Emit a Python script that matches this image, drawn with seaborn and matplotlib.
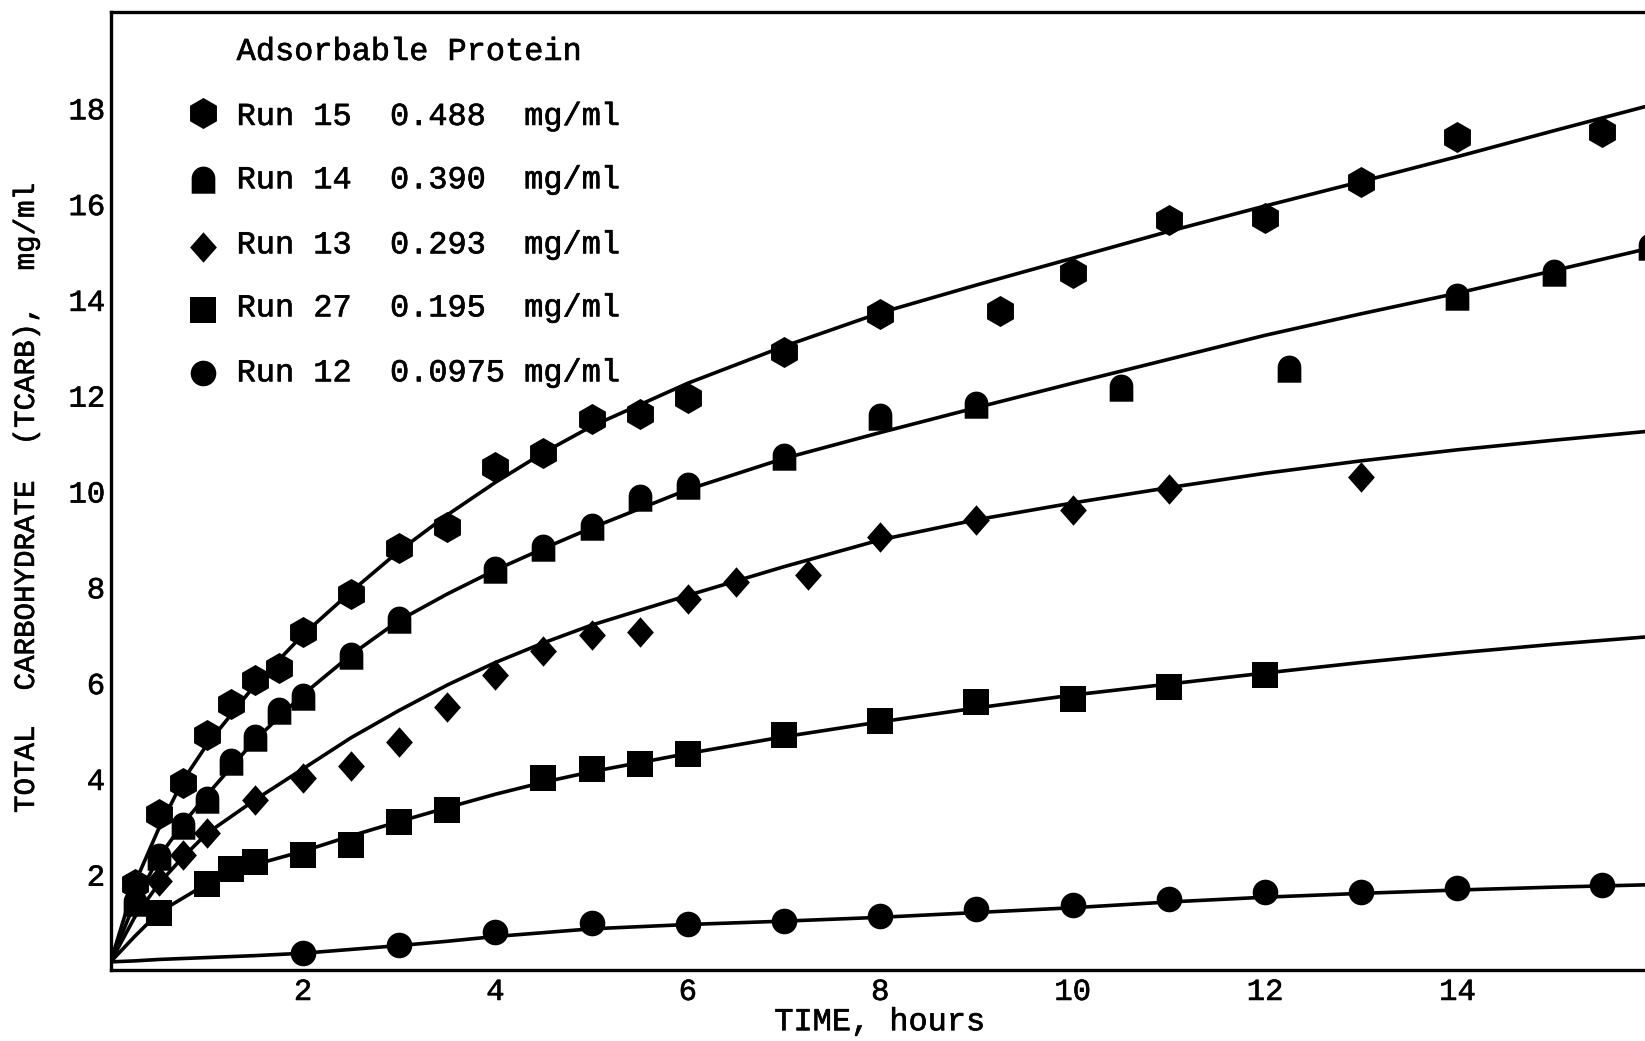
import numpy as np
import pandas as pd
import matplotlib
matplotlib.use("Agg")
import matplotlib.pyplot as plt
import matplotlib.patheffects as pe
from matplotlib.path import Path
import seaborn as sns

# ---- measured points: time (h) and total carbohydrate (mg/ml) ----
RUN15_T = [0.25, 0.5, 0.75, 1.0, 1.25, 1.5, 1.75, 2.0, 2.5, 3.0, 3.5, 4.0, 4.5, 5.0,
           5.5, 6.0, 7.0, 8.0, 9.25, 10.0, 11.0, 12.0, 13.0, 14.0, 15.5]
RUN15_C = [1.8, 3.25, 3.9, 4.9, 5.55, 6.05, 6.3, 7.05, 7.85, 8.8, 9.25, 10.5, 10.8, 11.5,
           11.6, 11.95, 12.9, 13.7, 13.75, 14.55, 15.65, 15.7, 16.45, 17.4, 17.5]

RUN14_T = [0.25, 0.5, 0.75, 1.0, 1.25, 1.5, 1.75, 2.0, 2.5, 3.0, 4.0, 4.5, 5.0, 5.5,
           6.0, 7.0, 8.0, 9.0, 10.5, 12.25, 14.0, 15.0, 16.0]
RUN14_C = [1.4, 2.35, 3.0, 3.55, 4.35, 4.85, 5.4, 5.7, 6.55, 7.3, 8.35, 8.8, 9.25, 9.85,
           10.1, 10.7, 11.55, 11.8, 12.15, 12.55, 14.05, 14.55, 15.1]

RUN13_T = [0.5, 0.75, 1.0, 1.5, 2.0, 2.5, 3.0, 3.5, 4.0, 4.5, 5.0, 5.5, 6.0, 6.5,
           7.25, 8.0, 9.0, 10.0, 11.0, 13.0]
RUN13_C = [1.85, 2.4, 2.85, 3.55, 4.0, 4.25, 4.75, 5.5, 6.15, 6.65, 7.0, 7.05, 7.75, 8.1,
           8.25, 9.05, 9.4, 9.6, 10.05, 10.3]

RUN27_T = [0.5, 1.0, 1.25, 1.5, 2.0, 2.5, 3.0, 3.5, 4.5, 5.0, 5.5, 6.0, 7.0, 8.0,
           9.0, 10.0, 11.0, 12.0]
RUN27_C = [1.2, 1.8, 2.1, 2.25, 2.4, 2.6, 3.1, 3.35, 4.0, 4.2, 4.3, 4.5, 4.9, 5.2,
           5.6, 5.65, 5.9, 6.15]

RUN12_T = [2, 3, 4, 5, 6, 7, 8, 9, 10, 11, 12, 13, 14, 15.5]
RUN12_C = [0.35, 0.52, 0.8, 0.98, 0.97, 1.03, 1.13, 1.27, 1.35, 1.48, 1.62, 1.62, 1.72, 1.77]

# ---- fitted curves, sampled along time ----
CURVE_T = [0, 0.25, 0.5, 0.75, 1.0, 1.5, 2.0, 2.5, 3.0, 3.5, 4.0, 4.5, 5.0, 6.0,
           7.0, 8.0, 9.0, 10.0, 11.0, 12.0, 13.0, 14.0, 15.0, 16.0]
FIT15 = [0.17, 1.8, 2.95, 3.95, 4.7, 5.95, 7.0, 7.9, 8.75, 9.5, 10.18, 10.8, 11.35, 12.25,
         13.02, 13.72, 14.3, 14.86, 15.42, 15.95, 16.46, 16.98, 17.52, 18.05]
FIT14 = [0.17, 1.4, 2.35, 3.05, 3.65, 4.8, 5.75, 6.58, 7.3, 7.85, 8.35, 8.8, 9.23, 10.03,
         10.68, 11.22, 11.74, 12.25, 12.75, 13.25, 13.7, 14.13, 14.6, 15.07]
FIT13 = [0.17, 1.1, 1.8, 2.35, 2.85, 3.55, 4.2, 4.85, 5.42, 5.95, 6.42, 6.83, 7.2, 7.82,
         8.42, 8.98, 9.4, 9.75, 10.07, 10.37, 10.63, 10.86, 11.06, 11.25]
FIT27 = [0.17, 0.7, 1.2, 1.5, 1.8, 2.2, 2.48, 2.8, 3.1, 3.39, 3.67, 3.92, 4.14, 4.52,
         4.87, 5.18, 5.47, 5.74, 5.97, 6.2, 6.42, 6.62, 6.8, 6.96]
FIT12 = [0.17, 0.19, 0.22, 0.24, 0.26, 0.3, 0.35, 0.43, 0.51, 0.6, 0.7, 0.78, 0.86, 0.95,
         1.02, 1.1, 1.2, 1.3, 1.42, 1.52, 1.6, 1.67, 1.73, 1.78]

RUN_LABELS = ["Run 15  0.488  mg/ml", "Run 14  0.390  mg/ml", "Run 13  0.293  mg/ml",
              "Run 27  0.195  mg/ml", "Run 12  0.0975 mg/ml"]
LEGEND_TITLE = "Adsorbable Protein"
X_TICKS = [2, 4, 6, 8, 10, 12, 14]
Y_TICKS = [2, 4, 6, 8, 10, 12, 14, 16, 18]

# ---- marker shapes ----
arc = np.linspace(0, np.pi, 24)
arch_verts = [(0.85 * np.cos(a), 0.15 + 0.85 * np.sin(a)) for a in arc]
arch_verts += [(-0.85, -0.95), (0.85, -0.95), (0.85, 0.15)]
ARCH = Path(arch_verts, closed=False)
DIAMOND = [(0, 1), (0.88, 0), (0, -1), (-0.88, 0), (0, 1)]

series = [
    (RUN15_T, RUN15_C, FIT15, "h", 500),
    (RUN14_T, RUN14_C, FIT14, ARCH, 400),
    (RUN13_T, RUN13_C, FIT13, DIAMOND, 480),
    (RUN27_T, RUN27_C, FIT27, "s", 330),
    (RUN12_T, RUN12_C, FIT12, "o", 340),
]

sns.set_theme(style="white")
plt.rcParams["font.family"] = ["Liberation Mono", "DejaVu Sans Mono"]
plt.rcParams["text.color"] = "black"
plt.rcParams["axes.labelcolor"] = "black"

# typewriter ink: thicken the thin monospaced strokes slightly
INK = [pe.withStroke(linewidth=0.45, foreground="black")]

W, H = 1645, 1041
fig = plt.figure(figsize=(W / 100, H / 100), dpi=100)
fig.patch.set_facecolor("white")
ax = fig.add_axes([0.06723, 0.06820, 0.93568, 0.92027])
ax.set_facecolor("white")

for t, c, fit, mk, size in series:
    sns.lineplot(x=CURVE_T, y=fit, ax=ax, color="black", linewidth=2.6,
                 estimator=None, sort=False, legend=False, zorder=2)
    sns.scatterplot(x=t, y=c, ax=ax, marker=mk, s=size, color="black",
                    edgecolor="black", linewidth=0, legend=False, zorder=3)

ax.set_xlim(0, 16)
ax.set_ylim(0, 20)
ax.set_xticks(X_TICKS)
ax.set_yticks(Y_TICKS)
ax.set_xticklabels([str(v) for v in X_TICKS])
ax.set_yticklabels([str(v) for v in Y_TICKS])
ax.tick_params(axis="both", direction="in", length=16.5, width=2.2, color="black",
               labelsize=22, labelcolor="black")
ax.tick_params(axis="x", pad=5)
ax.tick_params(axis="y", pad=4)
for lab in ax.get_xticklabels() + ax.get_yticklabels():
    lab.set_path_effects(INK)
for side in ["left", "bottom", "top", "right"]:
    ax.spines[side].set_color("black")
    ax.spines[side].set_linewidth(2.4)

ax.set_xlabel("TIME, hours", fontsize=23, path_effects=INK)
ax.xaxis.set_label_coords(0.5, -0.0545)
ax.xaxis.label.set_va("center")
ax.set_ylabel("TOTAL  CARBOHYDRATE  (TCARB),  mg/ml", fontsize=21, path_effects=INK)
ax.yaxis.set_label_coords(-0.055, 0.4927)
ax.yaxis.label.set_va("center")

# legend block in the upper left
ax.text(0.0819, 0.9499, LEGEND_TITLE, transform=ax.transAxes, fontsize=23,
        ha="left", va="baseline", path_effects=INK)
key_y = [0.8943, 0.8246, 0.7550, 0.6889, 0.6232]
text_y = [0.8821, 0.8160, 0.7481, 0.6823, 0.6145]
for (t, c, fit, mk, size), ky, ty, lab in zip(series, key_y, text_y, RUN_LABELS):
    ax.scatter([0.0600], [ky], transform=ax.transAxes, marker=mk, s=size,
               color="black", linewidths=0, clip_on=False, zorder=4)
    ax.text(0.0819, ty, lab, transform=ax.transAxes, fontsize=23,
            ha="left", va="baseline", path_effects=INK)

fig.savefig("out.png", dpi=100, facecolor="white")
